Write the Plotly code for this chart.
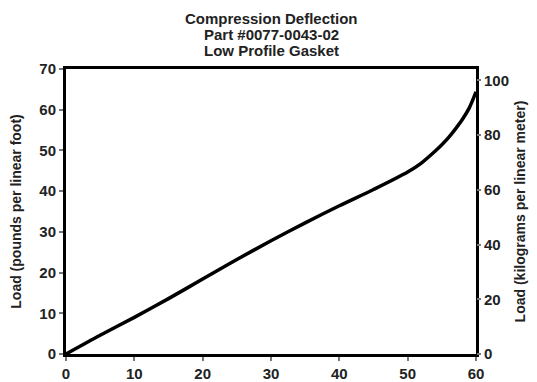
import plotly.graph_objects as go

# deflection (x) vs load (pounds per linear foot)
deflection = [0, 5, 10, 15, 20, 25, 30, 35, 40, 45, 50, 52, 54, 55, 56, 57, 58, 59, 60]
load_lbft = [0, 4.6, 9.0, 13.6, 18.4, 23.2, 27.8, 32.2, 36.4, 40.4, 44.7, 46.9, 49.8,
             51.4, 53.2, 55.3, 57.6, 60.4, 64.4]

x_ticks = [0, 10, 20, 30, 40, 50, 60]
left_ticks = [0, 10, 20, 30, 40, 50, 60, 70]
right_ticks = [0, 20, 40, 60, 80, 100]

title_lines = ["Compression Deflection", "Part #0077-0043-02", "Low Profile Gasket"]

LB_FT_TO_KG_M = 1.48816

W, H = 537, 382
L, R, T, B = 66, 61, 69, 28

FAMILY = "Liberation Sans, Arial, sans-serif"
tick_font = dict(family=FAMILY, size=15, color="#222")
axis_title_font = dict(family=FAMILY, size=14, color="#222")

fig = go.Figure()
fig.add_trace(go.Scatter(
    x=deflection,
    y=load_lbft,
    mode="lines",
    line=dict(color="black", width=3.5, shape="spline", smoothing=0.8),
    showlegend=False,
    hoverinfo="skip",
))
# invisible trace so the right axis exists
fig.add_trace(go.Scatter(
    x=[0, 60],
    y=[0, 70 * LB_FT_TO_KG_M],
    yaxis="y2",
    mode="lines",
    line=dict(width=0),
    opacity=0,
    showlegend=False,
    hoverinfo="skip",
))

# title as three lines, tighter spacing than plotly's <br>
plot_h = H - T - B
for i, line in enumerate(title_lines):
    y_px = 18 + 16 * i
    fig.add_annotation(
        text=f"<b>{line}</b>",
        xref="paper", yref="paper",
        x=0.5, y=(H - B - y_px) / plot_h,
        xanchor="center", yanchor="middle",
        showarrow=False,
        font=dict(family=FAMILY, size=15, color="#222"),
    )

fig.update_layout(
    width=W,
    height=H,
    margin=dict(l=L, r=R, t=T, b=B),
    plot_bgcolor="white",
    paper_bgcolor="white",
    xaxis=dict(
        range=[0, 60],
        tickvals=x_ticks,
        ticktext=[f"<b>{t}</b>" for t in x_ticks],
        tickfont=tick_font,
        showgrid=False,
        zeroline=False,
        showline=True,
        linecolor="black",
        linewidth=3,
        mirror=True,
        ticks="outside",
        ticklen=4,
        tickcolor="#777",
        tickwidth=2,
        automargin=False,
    ),
    yaxis=dict(
        range=[0, 70],
        tickvals=left_ticks,
        ticktext=[f"<b>{t}</b>" for t in left_ticks],
        tickfont=tick_font,
        showgrid=False,
        zeroline=False,
        showline=True,
        linecolor="black",
        linewidth=3,
        mirror=True,
        ticks="outside",
        ticklen=4,
        tickcolor="#777",
        tickwidth=2,
        automargin=False,
        title=dict(text="<b>Load (pounds per linear foot)</b>", standoff=15,
                   font=axis_title_font),
    ),
    yaxis2=dict(
        range=[0, 70 * LB_FT_TO_KG_M],
        overlaying="y",
        side="right",
        tickvals=right_ticks,
        ticktext=[f"<b>{t}</b>" for t in right_ticks],
        tickfont=tick_font,
        showgrid=False,
        zeroline=False,
        showline=False,
        ticks="outside",
        ticklen=4,
        tickcolor="#777",
        tickwidth=2,
        automargin=False,
        title=dict(text="<b>Load (kilograms per linear meter)</b>", standoff=7,
                   font=axis_title_font),
    ),
)

# the page body has a default margin; drop it so the figure sits at 0,0
fig.write_html("out.html", config={"displayModeBar": False},
               post_script="document.body.style.margin='0';")
